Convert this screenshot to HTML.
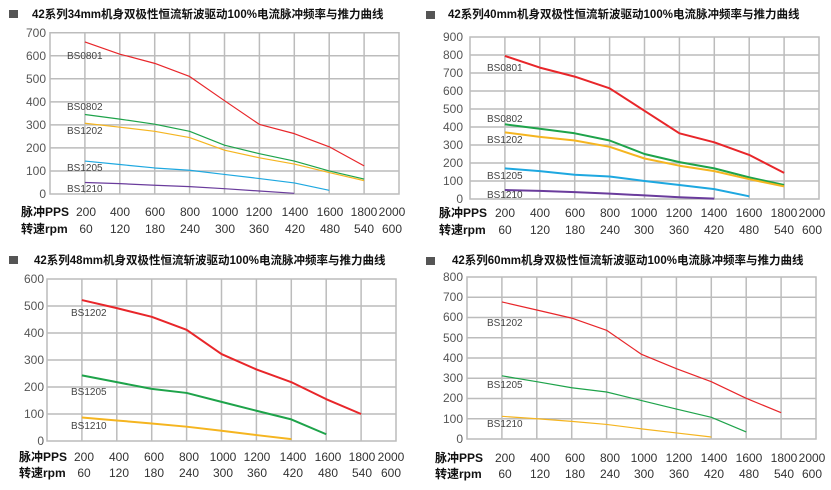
<!DOCTYPE html>
<html><head><meta charset="utf-8"><style>
body{margin:0;background:#fff}
svg{display:block}
.t{font-family:"Liberation Sans","Noto Sans CJK SC",sans-serif;font-weight:bold;font-size:11.5px;fill:#111}
.y{font-family:"Liberation Sans",sans-serif;font-size:12px;fill:#555;text-anchor:end}
.x{font-family:"Liberation Sans",sans-serif;font-size:12px;fill:#333;text-anchor:middle}
.xl{font-family:"Liberation Sans","Noto Sans CJK SC",sans-serif;font-size:12px;font-weight:bold;fill:#111}
.lb{font-family:"Liberation Sans",sans-serif;font-size:10px;fill:#444}
.g line,.g rect{stroke:#bcbcbc;stroke-width:1.5;fill:none;vector-effect:non-scaling-stroke}
.s{fill:none;vector-effect:non-scaling-stroke;stroke-linejoin:round}
</style></head><body>
<svg width="831" height="490" xmlns="http://www.w3.org/2000/svg">
<!-- Chart 1 -->
<rect x="9" y="10" width="9" height="8" fill="#555"/>
<text class="t" x="32" y="18">42系列34mm机身双极性恒流斩波驱动100%电流脉冲频率与推力曲线</text>
<g class="g" transform="matrix(0.1745 0 0 -0.2304 50 194)">
<rect x="0" y="0" width="2000" height="700"/>
<line x1="0" y1="100" x2="2000" y2="100"/><line x1="0" y1="200" x2="2000" y2="200"/><line x1="0" y1="300" x2="2000" y2="300"/><line x1="0" y1="400" x2="2000" y2="400"/><line x1="0" y1="500" x2="2000" y2="500"/><line x1="0" y1="600" x2="2000" y2="600"/>
<line x1="200" y1="0" x2="200" y2="700"/><line x1="400" y1="0" x2="400" y2="700"/><line x1="600" y1="0" x2="600" y2="700"/><line x1="800" y1="0" x2="800" y2="700"/><line x1="1000" y1="0" x2="1000" y2="700"/><line x1="1200" y1="0" x2="1200" y2="700"/><line x1="1400" y1="0" x2="1400" y2="700"/><line x1="1600" y1="0" x2="1600" y2="700"/><line x1="1800" y1="0" x2="1800" y2="700"/>
<polyline class="s" stroke="#e8262a" stroke-width="1.2" points="200,660 400,607 600,567 800,510 1000,405 1200,302 1400,262 1600,205 1800,122"/>
<polyline class="s" stroke="#1ea34a" stroke-width="1.2" points="200,345 400,325 600,303 800,272 1000,212 1200,175 1400,143 1600,100 1800,65"/>
<polyline class="s" stroke="#f5b520" stroke-width="1.2" points="200,307 400,290 600,272 800,245 1000,190 1200,157 1400,130 1600,93 1800,58"/>
<polyline class="s" stroke="#1ea8e0" stroke-width="1.2" points="200,143 400,128 600,113 800,103 1000,85 1200,67 1400,48 1600,16"/>
<polyline class="s" stroke="#6a3c9c" stroke-width="1.2" points="200,50 400,45 600,38 800,32 1000,23 1200,13 1400,3"/>
</g>
<g>
<text class="y" x="46" y="37">700</text><text class="y" x="46" y="60">600</text><text class="y" x="46" y="83">500</text><text class="y" x="46" y="106">400</text><text class="y" x="46" y="129">300</text><text class="y" x="46" y="152">200</text><text class="y" x="46" y="175">100</text><text class="y" x="46" y="198">0</text>
<text class="lb" x="67" y="59">BS0801</text><text class="lb" x="67" y="110">BS0802</text><text class="lb" x="67" y="134">BS1202</text><text class="lb" x="67" y="171">BS1205</text><text class="lb" x="67" y="192">BS1210</text>
<text class="xl" x="21" y="216">脉冲PPS</text><text class="xl" x="21" y="233">转速rpm</text>
<text class="x" x="86" y="216">200</text><text class="x" x="120" y="216">400</text><text class="x" x="155" y="216">600</text><text class="x" x="190" y="216">800</text><text class="x" x="225" y="216">1000</text><text class="x" x="259" y="216">1200</text><text class="x" x="295" y="216">1400</text><text class="x" x="330" y="216">1600</text><text class="x" x="364" y="216">1800</text><text class="x" x="392" y="216">2000</text>
<text class="x" x="86" y="233">60</text><text class="x" x="120" y="233">120</text><text class="x" x="155" y="233">180</text><text class="x" x="190" y="233">240</text><text class="x" x="225" y="233">300</text><text class="x" x="259" y="233">360</text><text class="x" x="295" y="233">420</text><text class="x" x="330" y="233">480</text><text class="x" x="364" y="233">540</text><text class="x" x="392" y="233">600</text>
</g>

<!-- Chart 2 -->
<rect x="426" y="11" width="9" height="8" fill="#555"/>
<text class="t" x="448" y="18">42系列40mm机身双极性恒流斩波驱动100%电流脉冲频率与推力曲线</text>
<g class="g" transform="matrix(0.1745 0 0 -0.18 470 199)">
<rect x="0" y="0" width="2000" height="900"/>
<line x1="0" y1="100" x2="2000" y2="100"/><line x1="0" y1="200" x2="2000" y2="200"/><line x1="0" y1="300" x2="2000" y2="300"/><line x1="0" y1="400" x2="2000" y2="400"/><line x1="0" y1="500" x2="2000" y2="500"/><line x1="0" y1="600" x2="2000" y2="600"/><line x1="0" y1="700" x2="2000" y2="700"/><line x1="0" y1="800" x2="2000" y2="800"/>
<line x1="200" y1="0" x2="200" y2="900"/><line x1="400" y1="0" x2="400" y2="900"/><line x1="600" y1="0" x2="600" y2="900"/><line x1="800" y1="0" x2="800" y2="900"/><line x1="1000" y1="0" x2="1000" y2="900"/><line x1="1200" y1="0" x2="1200" y2="900"/><line x1="1400" y1="0" x2="1400" y2="900"/><line x1="1600" y1="0" x2="1600" y2="900"/><line x1="1800" y1="0" x2="1800" y2="900"/>
<polyline class="s" stroke="#e8262a" stroke-width="2" points="200,795 400,730 600,680 800,615 1000,490 1200,365 1400,315 1600,245 1800,145"/>
<polyline class="s" stroke="#1ea34a" stroke-width="2" points="200,415 400,390 600,365 800,325 1000,250 1200,205 1400,170 1600,120 1800,78"/>
<polyline class="s" stroke="#f5b520" stroke-width="2" points="200,370 400,345 600,325 800,290 1000,225 1200,185 1400,155 1600,110 1800,70"/>
<polyline class="s" stroke="#1ea8e0" stroke-width="2" points="200,170 400,155 600,135 800,125 1000,100 1200,78 1400,55 1600,15"/>
<polyline class="s" stroke="#6a3c9c" stroke-width="2" points="200,50 400,45 600,38 800,30 1000,20 1200,10 1400,2"/>
</g>
<g>
<text class="y" x="463" y="41">900</text><text class="y" x="463" y="59">800</text><text class="y" x="463" y="77">700</text><text class="y" x="463" y="95">600</text><text class="y" x="463" y="113">500</text><text class="y" x="463" y="131">400</text><text class="y" x="463" y="149">300</text><text class="y" x="463" y="167">200</text><text class="y" x="463" y="185">100</text><text class="y" x="463" y="203">0</text>
<text class="lb" x="487" y="71">BS0801</text><text class="lb" x="487" y="122">BS0802</text><text class="lb" x="487" y="143">BS1202</text><text class="lb" x="487" y="179">BS1205</text><text class="lb" x="487" y="198">BS1210</text>
<text class="xl" x="439" y="217">脉冲PPS</text><text class="xl" x="439" y="234">转速rpm</text>
<text class="x" x="505" y="217">200</text><text class="x" x="540" y="217">400</text><text class="x" x="575" y="217">600</text><text class="x" x="610" y="217">800</text><text class="x" x="644" y="217">1000</text><text class="x" x="679" y="217">1200</text><text class="x" x="714" y="217">1400</text><text class="x" x="749" y="217">1600</text><text class="x" x="784" y="217">1800</text><text class="x" x="812" y="217">2000</text>
<text class="x" x="505" y="234">60</text><text class="x" x="540" y="234">120</text><text class="x" x="575" y="234">180</text><text class="x" x="610" y="234">240</text><text class="x" x="644" y="234">300</text><text class="x" x="679" y="234">360</text><text class="x" x="714" y="234">420</text><text class="x" x="749" y="234">480</text><text class="x" x="784" y="234">540</text><text class="x" x="812" y="234">600</text>
</g>

<!-- Chart 3 -->
<rect x="9" y="256" width="9" height="8" fill="#555"/>
<text class="t" x="34" y="264">42系列48mm机身双极性恒流斩波驱动100%电流脉冲频率与推力曲线</text>
<g class="g" transform="matrix(0.1745 0 0 -0.27 47 441)">
<rect x="0" y="0" width="2000" height="600"/>
<line x1="0" y1="100" x2="2000" y2="100"/><line x1="0" y1="200" x2="2000" y2="200"/><line x1="0" y1="300" x2="2000" y2="300"/><line x1="0" y1="400" x2="2000" y2="400"/><line x1="0" y1="500" x2="2000" y2="500"/>
<line x1="200" y1="0" x2="200" y2="600"/><line x1="400" y1="0" x2="400" y2="600"/><line x1="600" y1="0" x2="600" y2="600"/><line x1="800" y1="0" x2="800" y2="600"/><line x1="1000" y1="0" x2="1000" y2="600"/><line x1="1200" y1="0" x2="1200" y2="600"/><line x1="1400" y1="0" x2="1400" y2="600"/><line x1="1600" y1="0" x2="1600" y2="600"/><line x1="1800" y1="0" x2="1800" y2="600"/>
<polyline class="s" stroke="#e8262a" stroke-width="2" points="200,522 400,492 600,460 800,412 1000,322 1200,265 1400,218 1600,155 1800,100"/>
<polyline class="s" stroke="#1ea34a" stroke-width="2" points="200,243 400,218 600,193 800,178 1000,145 1200,112 1400,80 1600,25"/>
<polyline class="s" stroke="#f5b520" stroke-width="2" points="200,87 400,76 600,65 800,53 1000,38 1200,22 1400,7"/>
</g>
<g>
<text class="y" x="44" y="283">600</text><text class="y" x="44" y="310">500</text><text class="y" x="44" y="337">400</text><text class="y" x="44" y="364">300</text><text class="y" x="44" y="391">200</text><text class="y" x="44" y="418">100</text><text class="y" x="44" y="445">0</text>
<text class="lb" x="71" y="316">BS1202</text><text class="lb" x="71" y="395">BS1205</text><text class="lb" x="71" y="429">BS1210</text>
<text class="xl" x="19" y="461">脉冲PPS</text><text class="xl" x="19" y="477">转速rpm</text>
<text class="x" x="84" y="461">200</text><text class="x" x="119" y="461">400</text><text class="x" x="154" y="461">600</text><text class="x" x="189" y="461">800</text><text class="x" x="223" y="461">1000</text><text class="x" x="257" y="461">1200</text><text class="x" x="293" y="461">1400</text><text class="x" x="328" y="461">1600</text><text class="x" x="362" y="461">1800</text><text class="x" x="391" y="461">2000</text>
<text class="x" x="84" y="477">60</text><text class="x" x="119" y="477">120</text><text class="x" x="154" y="477">180</text><text class="x" x="189" y="477">240</text><text class="x" x="223" y="477">300</text><text class="x" x="257" y="477">360</text><text class="x" x="293" y="477">420</text><text class="x" x="328" y="477">480</text><text class="x" x="362" y="477">540</text><text class="x" x="391" y="477">600</text>
</g>

<!-- Chart 4 -->
<rect x="426" y="257" width="9" height="8" fill="#555"/>
<text class="t" x="452" y="264">42系列60mm机身双极性恒流斩波驱动100%电流脉冲频率与推力曲线</text>
<g class="g" transform="matrix(0.1745 0 0 -0.2025 467 439)">
<rect x="0" y="0" width="2000" height="800"/>
<line x1="0" y1="100" x2="2000" y2="100"/><line x1="0" y1="200" x2="2000" y2="200"/><line x1="0" y1="300" x2="2000" y2="300"/><line x1="0" y1="400" x2="2000" y2="400"/><line x1="0" y1="500" x2="2000" y2="500"/><line x1="0" y1="600" x2="2000" y2="600"/><line x1="0" y1="700" x2="2000" y2="700"/>
<line x1="200" y1="0" x2="200" y2="800"/><line x1="400" y1="0" x2="400" y2="800"/><line x1="600" y1="0" x2="600" y2="800"/><line x1="800" y1="0" x2="800" y2="800"/><line x1="1000" y1="0" x2="1000" y2="800"/><line x1="1200" y1="0" x2="1200" y2="800"/><line x1="1400" y1="0" x2="1400" y2="800"/><line x1="1600" y1="0" x2="1600" y2="800"/><line x1="1800" y1="0" x2="1800" y2="800"/>
<polyline class="s" stroke="#e8262a" stroke-width="1.2" points="200,677 400,637 600,597 800,537 1000,418 1200,347 1400,283 1600,201 1800,130"/>
<polyline class="s" stroke="#1ea34a" stroke-width="1.2" points="200,312 400,283 600,253 800,232 1000,190 1200,148 1400,107 1600,35"/>
<polyline class="s" stroke="#f5b520" stroke-width="1.2" points="200,112 400,100 600,87 800,72 1000,50 1200,30 1400,10"/>
</g>
<g>
<text class="y" x="463" y="281">800</text><text class="y" x="463" y="301">700</text><text class="y" x="463" y="321">600</text><text class="y" x="463" y="342">500</text><text class="y" x="463" y="362">400</text><text class="y" x="463" y="382">300</text><text class="y" x="463" y="402">200</text><text class="y" x="463" y="423">100</text><text class="y" x="463" y="443">0</text>
<text class="lb" x="487" y="326">BS1202</text><text class="lb" x="487" y="388">BS1205</text><text class="lb" x="487" y="427">BS1210</text>
<text class="xl" x="435" y="462">脉冲PPS</text><text class="xl" x="435" y="478">转速rpm</text>
<text class="x" x="505" y="462">200</text><text class="x" x="540" y="462">400</text><text class="x" x="575" y="462">600</text><text class="x" x="610" y="462">800</text><text class="x" x="644" y="462">1000</text><text class="x" x="679" y="462">1200</text><text class="x" x="714" y="462">1400</text><text class="x" x="749" y="462">1600</text><text class="x" x="784" y="462">1800</text><text class="x" x="812" y="462">2000</text>
<text class="x" x="505" y="478">60</text><text class="x" x="540" y="478">120</text><text class="x" x="575" y="478">180</text><text class="x" x="610" y="478">240</text><text class="x" x="644" y="478">300</text><text class="x" x="679" y="478">360</text><text class="x" x="714" y="478">420</text><text class="x" x="749" y="478">480</text><text class="x" x="784" y="478">540</text><text class="x" x="812" y="478">600</text>
</g>
</svg>
</body></html>
